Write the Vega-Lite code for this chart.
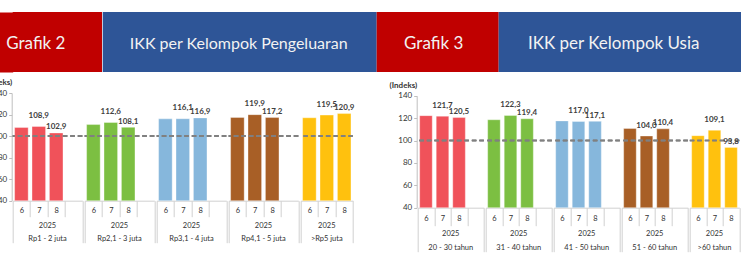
{
  "$schema": "https://vega.github.io/schema/vega-lite/v6.json",
  "padding": {"left": -16.3, "top": 12, "right": 0, "bottom": 0},
  "background": "white",
  "config": {
    "font": "Lato",
    "view": {"stroke": null},
    "locale": {"number": {"decimal": ",", "thousands": ".", "grouping": [3], "currency": ["", ""]}}
  },
  "columns": 1,
  "align": "none",
  "spacing": 6,
  "concat": [
    {
      "spacing": 0,
      "hconcat": [
        {"width": 89.3, "height": 60, "view": {"fill": "#C00000", "stroke": null},
         "data": {"values": [{"t": "Grafik 2"}]},
         "mark": {"type": "text", "fontSize": 17, "color": "#F2F2F2", "dx": -21.5, "dy": 2},
         "encoding": {"text": {"field": "t"},
           "y": {"field": "t", "type": "nominal", "axis": {"title": null, "labels": false, "ticks": false, "domainColor": "#C00000", "domainWidth": 24, "offset": 12, "domainCap": "butt"}}}},
        {"width": 274, "height": 60, "view": {"fill": "#2E5597", "stroke": null},
         "data": {"values": [{"t": "IKK per Kelompok Pengeluaran"}]},
         "mark": {"type": "text", "fontSize": 16, "color": "#F2F2F2", "dx": -1, "dy": 2},
         "encoding": {"text": {"field": "t"}}},
        {"width": 122, "height": 60, "view": {"fill": "#C00000", "stroke": null},
         "data": {"values": [{"t": "Grafik 3"}]},
         "mark": {"type": "text", "fontSize": 17, "color": "#F2F2F2", "dx": -4, "dy": 2},
         "encoding": {"text": {"field": "t"}}},
        {"width": 244, "height": 60, "view": {"fill": "#2E5597", "stroke": null},
         "data": {"values": [{"t": "IKK per Kelompok Usia"}]},
         "mark": {"type": "text", "fontSize": 17, "color": "#F2F2F2", "dx": -7, "dy": 2},
         "encoding": {"text": {"field": "t"}}}
      ]
    },
    {
      "spacing": 34,
      "hconcat": [
        {
          "data": {"values": [
            {"group": "Rp1 - 2 juta", "month": 6, "value": 108.0},
            {"group": "Rp1 - 2 juta", "month": 7, "value": 108.9},
            {"group": "Rp1 - 2 juta", "month": 8, "value": 102.9},
            {"group": "Rp1 - 2 juta", "month": 9, "value": null},
            {"group": "Rp2,1 - 3 juta", "month": 6, "value": 110.7},
            {"group": "Rp2,1 - 3 juta", "month": 7, "value": 112.6},
            {"group": "Rp2,1 - 3 juta", "month": 8, "value": 108.1},
            {"group": "Rp2,1 - 3 juta", "month": 9, "value": null},
            {"group": "Rp3,1 - 4 juta", "month": 6, "value": 116.0},
            {"group": "Rp3,1 - 4 juta", "month": 7, "value": 116.1},
            {"group": "Rp3,1 - 4 juta", "month": 8, "value": 116.9},
            {"group": "Rp3,1 - 4 juta", "month": 9, "value": null},
            {"group": "Rp4,1 - 5 juta", "month": 6, "value": 117.3},
            {"group": "Rp4,1 - 5 juta", "month": 7, "value": 119.9},
            {"group": "Rp4,1 - 5 juta", "month": 8, "value": 117.2},
            {"group": "Rp4,1 - 5 juta", "month": 9, "value": null},
            {"group": ">Rp5 juta", "month": 6, "value": 117.0},
            {"group": ">Rp5 juta", "month": 7, "value": 119.5},
            {"group": ">Rp5 juta", "month": 8, "value": 120.9}
          ]},
          "facet": {"column": {"field": "group", "type": "nominal", "title": null,
            "sort": ["Rp1 - 2 juta", "Rp2,1 - 3 juta", "Rp3,1 - 4 juta", "Rp4,1 - 5 juta", ">Rp5 juta"],
            "header": {"labelOrient": "bottom", "labelExpr": "['2025', datum.label]", "labelFontSize": 7.5, "labelColor": "#333333", "labelLineHeight": 13.4, "labelPadding": -22, "labelBaseline": "top"}}},
          "spacing": {"column": 0, "row": 0},
          "align": "none",
          "resolve": {"scale": {"x": "independent"}},
          "spec": {
            "width": {"step": 17.4},
            "height": 107.7,
            "layer": [
              {"mark": {"type": "text", "text": ""},
               "encoding": {
                 "x": {"field": "month", "type": "ordinal", "scale": {"paddingInner": 0, "paddingOuter": 0},
                   "axis": {"title": null, "labelAngle": 0, "labelExpr": "datum.value == 9 ? '' : datum.label", "tickBand": "extent",
                     "tickSize": {"condition": {"test": "datum.index >= 1 || datum.index < 0 || isValid(datum.extra)", "value": 42}, "value": 16},
                     "labelPadding": {"condition": {"test": "datum.index >= 1 || datum.index < 0 || isValid(datum.extra)", "value": -35.8}, "value": -9.8},
                     "tickColor": "#d0d0d0", "domainColor": "#d0d0d0", "labelFontSize": 7.5, "labelColor": "#333333"}},
                 "y": {"datum": 100, "type": "quantitative", "scale": {"domain": [40, 140], "nice": false},
                   "axis": {"title": "(Indeks)", "titleAngle": 0, "titleAlign": "right", "titleX": 0, "titleY": -10.5, "titleBaseline": "middle",
                     "titleFontSize": 8, "titleFontWeight": "bold", "titleColor": "#333333",
                     "values": [40, 60, 80, 100, 120, 140], "tickSize": 3, "labelPadding": 2, "labelFontSize": 8, "labelColor": "#333333",
                     "grid": false, "domainColor": "#bfbfbf", "tickColor": "#bfbfbf", "labelOverlap": false}}}},
              {"transform": [{"filter": "isValid(datum.value)"}],
               "mark": {"type": "bar", "width": {"band": 0.78}, "stroke": "#ffffff", "strokeOpacity": 0.35, "strokeWidth": 1},
               "encoding": {
                 "x": {"field": "month", "type": "ordinal", "scale": {"paddingInner": 0, "paddingOuter": 0},
                   "axis": {"title": null, "labelAngle": 0, "labelExpr": "datum.value == 9 ? '' : datum.label", "tickBand": "extent",
                     "tickSize": {"condition": {"test": "datum.index >= 1 || datum.index < 0 || isValid(datum.extra)", "value": 42}, "value": 16},
                     "labelPadding": {"condition": {"test": "datum.index >= 1 || datum.index < 0 || isValid(datum.extra)", "value": -35.8}, "value": -9.8},
                     "tickColor": "#d0d0d0", "domainColor": "#d0d0d0", "labelFontSize": 7.5, "labelColor": "#333333"}},
                 "y": {"field": "value", "type": "quantitative", "scale": {"domain": [40, 140], "nice": false},
                   "axis": {"title": "(Indeks)", "titleAngle": 0, "titleAlign": "right", "titleX": 0, "titleY": -10.5, "titleBaseline": "middle",
                     "titleFontSize": 8, "titleFontWeight": "bold", "titleColor": "#333333",
                     "values": [40, 60, 80, 100, 120, 140], "tickSize": 3, "labelPadding": 2, "labelFontSize": 8, "labelColor": "#333333",
                     "grid": false, "domainColor": "#bfbfbf", "tickColor": "#bfbfbf", "labelOverlap": false}},
                 "y2": {"datum": 40},
                 "color": {"field": "group", "type": "nominal", "legend": null,
                   "scale": {"domain": ["Rp1 - 2 juta", "Rp2,1 - 3 juta", "Rp3,1 - 4 juta", "Rp4,1 - 5 juta", ">Rp5 juta", "20 - 30 tahun", "31 - 40 tahun", "41 - 50 tahun", "51 - 60 tahun", ">60 tahun"],
                     "range": ["#F0525A", "#7CBF42", "#86B7DC", "#A85F26", "#FFC10E", "#F0525A", "#7CBF42", "#86B7DC", "#A85F26", "#FFC10E"]}}}},
              {"mark": {"type": "rule", "color": "#808080", "strokeDash": [4.5, 3], "strokeWidth": 1.5},
               "encoding": {"y": {"datum": 100, "type": "quantitative", "scale": {"domain": [40, 140], "nice": false},
                   "axis": {"title": "(Indeks)", "titleAngle": 0, "titleAlign": "right", "titleX": 0, "titleY": -10.5, "titleBaseline": "middle",
                     "titleFontSize": 8, "titleFontWeight": "bold", "titleColor": "#333333",
                     "values": [40, 60, 80, 100, 120, 140], "tickSize": 3, "labelPadding": 2, "labelFontSize": 8, "labelColor": "#333333",
                     "grid": false, "domainColor": "#bfbfbf", "tickColor": "#bfbfbf", "labelOverlap": false}}}},
              {"transform": [{"filter": "isValid(datum.value) && datum.month == 7"}],
               "mark": {"type": "text", "baseline": "bottom", "dy": -6.5, "fontSize": 8, "fontWeight": "bold", "color": "#404040"},
               "encoding": {
                 "x": {"field": "month", "type": "ordinal", "scale": {"paddingInner": 0, "paddingOuter": 0},
                   "axis": {"title": null, "labelAngle": 0, "labelExpr": "datum.value == 9 ? '' : datum.label", "tickBand": "extent",
                     "tickSize": {"condition": {"test": "datum.index >= 1 || datum.index < 0 || isValid(datum.extra)", "value": 42}, "value": 16},
                     "labelPadding": {"condition": {"test": "datum.index >= 1 || datum.index < 0 || isValid(datum.extra)", "value": -35.8}, "value": -9.8},
                     "tickColor": "#d0d0d0", "domainColor": "#d0d0d0", "labelFontSize": 7.5, "labelColor": "#333333"}},
                 "y": {"field": "value", "type": "quantitative", "scale": {"domain": [40, 140], "nice": false},
                   "axis": {"title": "(Indeks)", "titleAngle": 0, "titleAlign": "right", "titleX": 0, "titleY": -10.5, "titleBaseline": "middle",
                     "titleFontSize": 8, "titleFontWeight": "bold", "titleColor": "#333333",
                     "values": [40, 60, 80, 100, 120, 140], "tickSize": 3, "labelPadding": 2, "labelFontSize": 8, "labelColor": "#333333",
                     "grid": false, "domainColor": "#bfbfbf", "tickColor": "#bfbfbf", "labelOverlap": false}},
                 "text": {"field": "value", "type": "quantitative", "format": ".1f"}}},
              {"transform": [{"filter": "isValid(datum.value) && datum.month == 8"}],
               "mark": {"type": "text", "baseline": "bottom", "dy": -1.5, "fontSize": 8, "fontWeight": "bold", "color": "#404040"},
               "encoding": {
                 "x": {"field": "month", "type": "ordinal", "scale": {"paddingInner": 0, "paddingOuter": 0},
                   "axis": {"title": null, "labelAngle": 0, "labelExpr": "datum.value == 9 ? '' : datum.label", "tickBand": "extent",
                     "tickSize": {"condition": {"test": "datum.index >= 1 || datum.index < 0 || isValid(datum.extra)", "value": 42}, "value": 16},
                     "labelPadding": {"condition": {"test": "datum.index >= 1 || datum.index < 0 || isValid(datum.extra)", "value": -35.8}, "value": -9.8},
                     "tickColor": "#d0d0d0", "domainColor": "#d0d0d0", "labelFontSize": 7.5, "labelColor": "#333333"}},
                 "y": {"field": "value", "type": "quantitative", "scale": {"domain": [40, 140], "nice": false},
                   "axis": {"title": "(Indeks)", "titleAngle": 0, "titleAlign": "right", "titleX": 0, "titleY": -10.5, "titleBaseline": "middle",
                     "titleFontSize": 8, "titleFontWeight": "bold", "titleColor": "#333333",
                     "values": [40, 60, 80, 100, 120, 140], "tickSize": 3, "labelPadding": 2, "labelFontSize": 8, "labelColor": "#333333",
                     "grid": false, "domainColor": "#bfbfbf", "tickColor": "#bfbfbf", "labelOverlap": false}},
                 "text": {"field": "value", "type": "quantitative", "format": ".1f"}}}
            ]
          }
        },
        {
          "data": {"values": [
            {"group": "20 - 30 tahun", "month": 6, "value": 122.2},
            {"group": "20 - 30 tahun", "month": 7, "value": 121.7},
            {"group": "20 - 30 tahun", "month": 8, "value": 120.5},
            {"group": "20 - 30 tahun", "month": 9, "value": null},
            {"group": "31 - 40 tahun", "month": 6, "value": 118.5},
            {"group": "31 - 40 tahun", "month": 7, "value": 122.3},
            {"group": "31 - 40 tahun", "month": 8, "value": 119.4},
            {"group": "31 - 40 tahun", "month": 9, "value": null},
            {"group": "41 - 50 tahun", "month": 6, "value": 117.5},
            {"group": "41 - 50 tahun", "month": 7, "value": 117.0},
            {"group": "41 - 50 tahun", "month": 8, "value": 117.1},
            {"group": "41 - 50 tahun", "month": 9, "value": null},
            {"group": "51 - 60 tahun", "month": 6, "value": 110.7},
            {"group": "51 - 60 tahun", "month": 7, "value": 104.0},
            {"group": "51 - 60 tahun", "month": 8, "value": 110.4},
            {"group": "51 - 60 tahun", "month": 9, "value": null},
            {"group": ">60 tahun", "month": 6, "value": 104.3},
            {"group": ">60 tahun", "month": 7, "value": 109.1},
            {"group": ">60 tahun", "month": 8, "value": 93.8}
          ]},
          "facet": {"column": {"field": "group", "type": "nominal", "title": null,
            "sort": ["20 - 30 tahun", "31 - 40 tahun", "41 - 50 tahun", "51 - 60 tahun", ">60 tahun"],
            "header": {"labelOrient": "bottom", "labelExpr": "['2025', datum.label]", "labelFontSize": 7.5, "labelColor": "#333333", "labelLineHeight": 13.4, "labelPadding": -22.5, "labelBaseline": "top"}}},
          "spacing": {"column": 0, "row": 0},
          "align": "none",
          "resolve": {"scale": {"x": "independent"}},
          "spec": {
            "width": {"step": 16.54},
            "height": 114.7,
            "layer": [
              {"mark": {"type": "text", "text": ""},
               "encoding": {
                 "x": {"field": "month", "type": "ordinal", "scale": {"paddingInner": 0, "paddingOuter": 0},
                   "axis": {"title": null, "labelAngle": 0, "labelExpr": "datum.value == 9 ? '' : datum.label", "tickBand": "extent",
                     "tickSize": {"condition": {"test": "datum.index >= 1 || datum.index < 0 || isValid(datum.extra)", "value": 44}, "value": 18},
                     "labelPadding": {"condition": {"test": "datum.index >= 1 || datum.index < 0 || isValid(datum.extra)", "value": -37.5}, "value": -11.5},
                     "tickColor": "#d0d0d0", "domainColor": "#d0d0d0", "labelFontSize": 7.5, "labelColor": "#333333"}},
                 "y": {"datum": 100, "type": "quantitative", "scale": {"domain": [40, 140], "nice": false, "range": [114.7, 2.7]},
                   "axis": {"title": "(Indeks)", "titleAngle": 0, "titleAlign": "right", "titleX": 0, "titleY": -8, "titleBaseline": "middle",
                     "titleFontSize": 8, "titleFontWeight": "bold", "titleColor": "#333333",
                     "values": [40, 60, 80, 100, 120, 140], "tickSize": 3, "labelPadding": 2, "labelFontSize": 8, "labelColor": "#333333",
                     "grid": false, "domainColor": "#bfbfbf", "tickColor": "#bfbfbf", "labelOverlap": false}}}},
              {"transform": [{"filter": "isValid(datum.value)"}],
               "mark": {"type": "bar", "width": {"band": 0.76}, "stroke": "#ffffff", "strokeOpacity": 0.35, "strokeWidth": 1},
               "encoding": {
                 "x": {"field": "month", "type": "ordinal", "scale": {"paddingInner": 0, "paddingOuter": 0},
                   "axis": {"title": null, "labelAngle": 0, "labelExpr": "datum.value == 9 ? '' : datum.label", "tickBand": "extent",
                     "tickSize": {"condition": {"test": "datum.index >= 1 || datum.index < 0 || isValid(datum.extra)", "value": 44}, "value": 18},
                     "labelPadding": {"condition": {"test": "datum.index >= 1 || datum.index < 0 || isValid(datum.extra)", "value": -37.5}, "value": -11.5},
                     "tickColor": "#d0d0d0", "domainColor": "#d0d0d0", "labelFontSize": 7.5, "labelColor": "#333333"}},
                 "y": {"field": "value", "type": "quantitative", "scale": {"domain": [40, 140], "nice": false, "range": [114.7, 2.7]},
                   "axis": {"title": "(Indeks)", "titleAngle": 0, "titleAlign": "right", "titleX": 0, "titleY": -8, "titleBaseline": "middle",
                     "titleFontSize": 8, "titleFontWeight": "bold", "titleColor": "#333333",
                     "values": [40, 60, 80, 100, 120, 140], "tickSize": 3, "labelPadding": 2, "labelFontSize": 8, "labelColor": "#333333",
                     "grid": false, "domainColor": "#bfbfbf", "tickColor": "#bfbfbf", "labelOverlap": false}},
                 "y2": {"datum": 40},
                 "color": {"field": "group", "type": "nominal", "legend": null,
                   "scale": {"domain": ["Rp1 - 2 juta", "Rp2,1 - 3 juta", "Rp3,1 - 4 juta", "Rp4,1 - 5 juta", ">Rp5 juta", "20 - 30 tahun", "31 - 40 tahun", "41 - 50 tahun", "51 - 60 tahun", ">60 tahun"],
                     "range": ["#F0525A", "#7CBF42", "#86B7DC", "#A85F26", "#FFC10E", "#F0525A", "#7CBF42", "#86B7DC", "#A85F26", "#FFC10E"]}}}},
              {"mark": {"type": "rule", "color": "#808080", "strokeDash": [4.5, 3], "strokeWidth": 1.5},
               "encoding": {"y": {"datum": 100, "type": "quantitative", "scale": {"domain": [40, 140], "nice": false, "range": [114.7, 2.7]},
                   "axis": {"title": "(Indeks)", "titleAngle": 0, "titleAlign": "right", "titleX": 0, "titleY": -8, "titleBaseline": "middle",
                     "titleFontSize": 8, "titleFontWeight": "bold", "titleColor": "#333333",
                     "values": [40, 60, 80, 100, 120, 140], "tickSize": 3, "labelPadding": 2, "labelFontSize": 8, "labelColor": "#333333",
                     "grid": false, "domainColor": "#bfbfbf", "tickColor": "#bfbfbf", "labelOverlap": false}}}},
              {"transform": [{"filter": "isValid(datum.value) && datum.month == 7"}],
               "mark": {"type": "text", "baseline": "bottom", "dy": -6.5, "fontSize": 8, "fontWeight": "bold", "color": "#404040"},
               "encoding": {
                 "x": {"field": "month", "type": "ordinal", "scale": {"paddingInner": 0, "paddingOuter": 0},
                   "axis": {"title": null, "labelAngle": 0, "labelExpr": "datum.value == 9 ? '' : datum.label", "tickBand": "extent",
                     "tickSize": {"condition": {"test": "datum.index >= 1 || datum.index < 0 || isValid(datum.extra)", "value": 44}, "value": 18},
                     "labelPadding": {"condition": {"test": "datum.index >= 1 || datum.index < 0 || isValid(datum.extra)", "value": -37.5}, "value": -11.5},
                     "tickColor": "#d0d0d0", "domainColor": "#d0d0d0", "labelFontSize": 7.5, "labelColor": "#333333"}},
                 "y": {"field": "value", "type": "quantitative", "scale": {"domain": [40, 140], "nice": false, "range": [114.7, 2.7]},
                   "axis": {"title": "(Indeks)", "titleAngle": 0, "titleAlign": "right", "titleX": 0, "titleY": -8, "titleBaseline": "middle",
                     "titleFontSize": 8, "titleFontWeight": "bold", "titleColor": "#333333",
                     "values": [40, 60, 80, 100, 120, 140], "tickSize": 3, "labelPadding": 2, "labelFontSize": 8, "labelColor": "#333333",
                     "grid": false, "domainColor": "#bfbfbf", "tickColor": "#bfbfbf", "labelOverlap": false}},
                 "text": {"field": "value", "type": "quantitative", "format": ".1f"}}},
              {"transform": [{"filter": "isValid(datum.value) && datum.month == 8"}],
               "mark": {"type": "text", "baseline": "bottom", "dy": -1.5, "fontSize": 8, "fontWeight": "bold", "color": "#404040"},
               "encoding": {
                 "x": {"field": "month", "type": "ordinal", "scale": {"paddingInner": 0, "paddingOuter": 0},
                   "axis": {"title": null, "labelAngle": 0, "labelExpr": "datum.value == 9 ? '' : datum.label", "tickBand": "extent",
                     "tickSize": {"condition": {"test": "datum.index >= 1 || datum.index < 0 || isValid(datum.extra)", "value": 44}, "value": 18},
                     "labelPadding": {"condition": {"test": "datum.index >= 1 || datum.index < 0 || isValid(datum.extra)", "value": -37.5}, "value": -11.5},
                     "tickColor": "#d0d0d0", "domainColor": "#d0d0d0", "labelFontSize": 7.5, "labelColor": "#333333"}},
                 "y": {"field": "value", "type": "quantitative", "scale": {"domain": [40, 140], "nice": false, "range": [114.7, 2.7]},
                   "axis": {"title": "(Indeks)", "titleAngle": 0, "titleAlign": "right", "titleX": 0, "titleY": -8, "titleBaseline": "middle",
                     "titleFontSize": 8, "titleFontWeight": "bold", "titleColor": "#333333",
                     "values": [40, 60, 80, 100, 120, 140], "tickSize": 3, "labelPadding": 2, "labelFontSize": 8, "labelColor": "#333333",
                     "grid": false, "domainColor": "#bfbfbf", "tickColor": "#bfbfbf", "labelOverlap": false}},
                 "text": {"field": "value", "type": "quantitative", "format": ".1f"}}}
            ]
          }
        }
      ]
    }
  ]
}
